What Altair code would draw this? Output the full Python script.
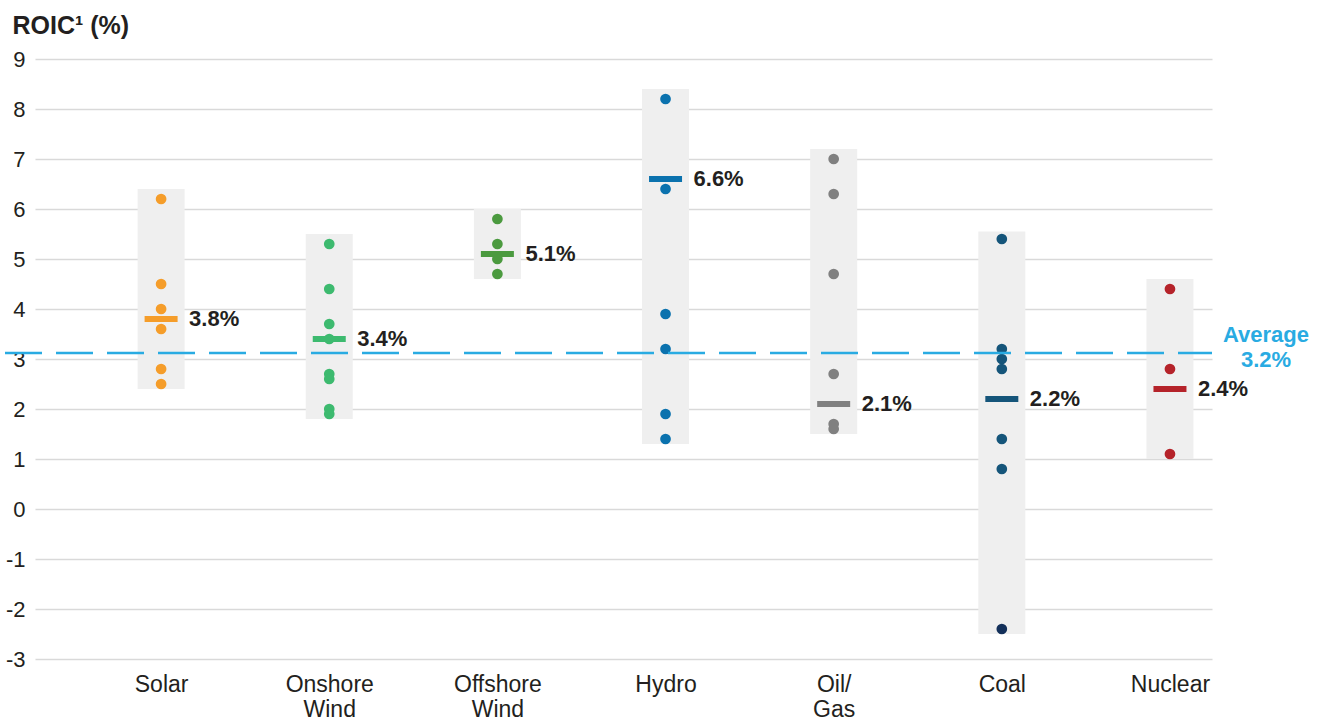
import altair as alt
import pandas as pd

categories = ["Solar", "Onshore Wind", "Offshore Wind", "Hydro", "Oil/Gas", "Coal", "Nuclear"]
colors = ["#f59d2a", "#3dba6f", "#4b9a3f", "#0b72ae", "#808080", "#15557a", "#b5232a"]
range_low = [2.4, 1.8, 4.6, 1.3, 1.5, -2.5, 1.0]
range_high = [6.4, 5.5, 6.0, 8.4, 7.2, 5.55, 4.6]
means = [3.8, 3.4, 5.1, 6.6, 2.1, 2.2, 2.4]
points = {
    "Solar": [6.2, 4.5, 4.0, 3.6, 2.8, 2.5],
    "Onshore Wind": [5.3, 4.4, 3.7, 3.4, 2.7, 2.6, 2.0, 1.9],
    "Offshore Wind": [5.8, 5.3, 5.0, 4.7],
    "Hydro": [8.2, 6.4, 3.9, 3.2, 1.9, 1.4],
    "Oil/Gas": [7.0, 6.3, 4.7, 2.7, 1.7, 1.6],
    "Coal": [5.4, 3.2, 3.0, 2.8, 1.4, 0.8, -2.4],
    "Nuclear": [4.4, 2.8, 1.1],
}
coal_low_color = "#13305a"
average = 3.12
average_label = ["Average", "3.2%"]

FONT = "Liberation Sans"
W, H = 1177, 600

summary = pd.DataFrame({
    "cat": categories, "low": range_low, "high": range_high,
    "mean": means, "color": colors,
    "label": [f"{m:.1f}%" for m in means],
})
rows = []
for c, col in zip(categories, colors):
    for v in points[c]:
        pc = coal_low_color if (c == "Coal" and v < 0) else col
        rows.append({"cat": c, "v": v, "color": pc})
pts = pd.DataFrame(rows)

x = alt.X("cat:N", sort=categories,
          scale=alt.Scale(type="point", padding=0.5, align=0.75),
          axis=alt.Axis(title=None, domain=False, ticks=False, grid=False,
                        labelAngle=0, labelFontSize=23, labelFont=FONT,
                        labelColor="#231f20", labelPadding=14, labelLineHeight=25,
                        labelBaseline="top",
                        labelExpr="datum.label == 'Oil/Gas' ? ['Oil/', 'Gas'] : split(datum.label, ' ')"))
y = alt.Y("low:Q", scale=alt.Scale(domain=[-3, 9], nice=False, zero=False),
          axis=alt.Axis(values=list(range(-3, 10)), title="ROIC¹ (%)",
                        labelExpr="toString(datum.value)",
                        titleAngle=0, titleAlign="left", titleBaseline="alphabetic",
                        titleX=-23, titleY=-26, titleFont=FONT, titleFontSize=25,
                        titleFontWeight="bold", titleColor="#231f20",
                        labelFontSize=22, labelFont=FONT, labelColor="#231f20",
                        labelPadding=10, ticks=False, domain=False,
                        gridColor="#d9d9d9", gridWidth=1.5))

boxes = alt.Chart(summary).mark_bar(size=47, color="#efefef").encode(
    x=x, y=y, y2="high:Q")

dots = alt.Chart(pts).mark_circle(size=115, opacity=1).encode(
    x=alt.X("cat:N", sort=categories), y=alt.Y("v:Q"),
    color=alt.Color("color:N", scale=None))

avg = alt.Chart(pd.DataFrame({"a": [average]})).mark_rule(
    color="#29abe2", strokeWidth=2.6, strokeDash=[37, 14]).encode(
    y="a:Q", x=alt.value(-30), x2=alt.value(W))

ticks = alt.Chart(summary).mark_tick(thickness=6, size=33, opacity=1).encode(
    x=alt.X("cat:N", sort=categories), y=alt.Y("mean:Q"),
    color=alt.Color("color:N", scale=None))

labels = alt.Chart(summary).mark_text(
    align="left", baseline="middle", dx=28, font=FONT, fontSize=22,
    fontWeight="bold", color="#231f20").encode(
    x=alt.X("cat:N", sort=categories), y=alt.Y("mean:Q"), text="label:N")

avg_text = alt.Chart(pd.DataFrame({"a": [3.48], "t": [average_label]})).mark_text(
    align="center", baseline="middle", font=FONT, fontSize=22, fontWeight="bold",
    color="#29abe2", lineHeight=25).encode(
    y="a:Q", x=alt.value(1231), text="t")

chart = alt.layer(boxes, dots, avg, ticks, labels, avg_text).properties(
    width=W, height=H,
    autosize=alt.AutoSizeParams(type="none"),
    padding={"left": 35, "top": 59, "right": 1325 - 35 - W, "bottom": 722 - 59 - H},
).configure(background="white").configure_view(stroke=None)

chart.save("out.html", embed_options={"renderer": "svg", "actions": False})
